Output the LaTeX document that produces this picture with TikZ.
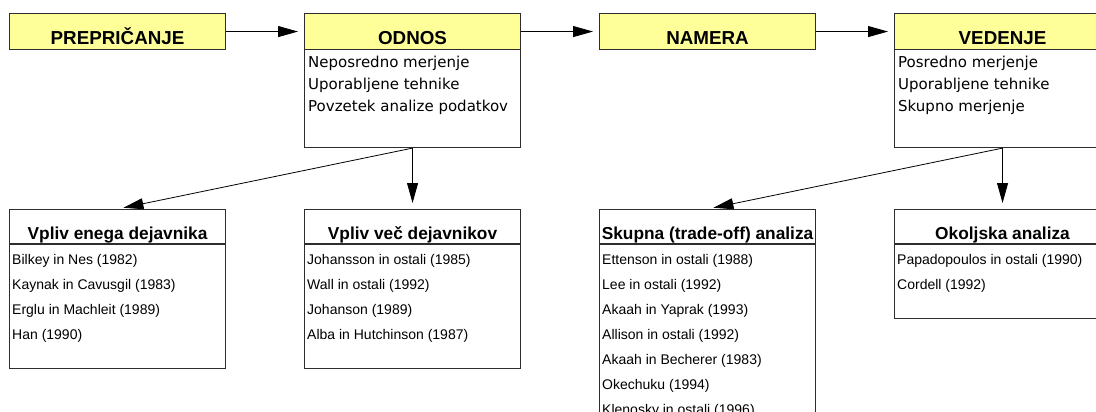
\documentclass[tikz,border=0pt]{standalone}
\usepackage{fontspec}
\setmainfont{Liberation Sans}
\newfontfamily\listfont{DejaVu Sans}
\usetikzlibrary{arrows.meta}
\definecolor{hdryellow}{RGB}{255,255,153}
\definecolor{boxline}{RGB}{45,45,45}

\begin{document}
\begin{tikzpicture}[x=1pt,y=-1pt,
  box/.style={draw=boxline, line width=1.1pt, anchor=north west, inner sep=0pt, minimum width=216pt},
  hdr/.style={box, fill=hdryellow, minimum height=36pt},
  sep/.style={draw=boxline, line width=1.1pt},
  toptitle/.style={font=\fontsize{18.8}{20}\selectfont\bfseries, anchor=base, inner sep=0pt},
  subtitle/.style={font=\fontsize{17.3}{19}\selectfont\bfseries, anchor=base, inner sep=0pt},
  topitem/.style={font=\listfont\fontsize{15}{18}\selectfont, anchor=base west, inner sep=0pt},
  item/.style={font=\fontsize{14}{16}\selectfont, anchor=base west, inner sep=0pt},
  link/.style={line width=0.8pt, -{Triangle[length=20pt,width=11pt]}, shorten >=6pt},
]
\path[use as bounding box] (0,0) rectangle (1096,412);
\clip (0,0) rectangle (1096,412);

% ---- top row ----
\node[hdr] (prep) at (9,13) {};
\node[toptitle] (prepT) at ([yshift=6pt]prep.south) {PREPRIČANJE};

\node[box, minimum height=134pt] (odnos) at (304,13) {};
\node[hdr] (odnosH) at (304,13) {};
\node[toptitle] (odnosT) at ([yshift=6pt]odnosH.south) {ODNOS};
\node[topitem] (odnos1) at ([xshift=4pt,yshift=-17pt]odnosH.south west) {Neposredno merjenje};
\node[topitem] (odnos2) at ([xshift=4pt,yshift=-39pt]odnosH.south west) {Uporabljene tehnike};
\node[topitem] (odnos3) at ([xshift=4pt,yshift=-61pt]odnosH.south west) {Povzetek analize podatkov};

\node[hdr] (namera) at (599,13) {};
\node[toptitle] (nameraT) at ([yshift=6pt]namera.south) {NAMERA};

\node[box, minimum height=134pt] (vedenje) at (894,13) {};
\node[hdr] (vedenjeH) at (894,13) {};
\node[toptitle] (vedenjeT) at ([yshift=6pt]vedenjeH.south) {VEDENJE};
\node[topitem] (vedenje1) at ([xshift=4pt,yshift=-17pt]vedenjeH.south west) {Posredno merjenje};
\node[topitem] (vedenje2) at ([xshift=4pt,yshift=-39pt]vedenjeH.south west) {Uporabljene tehnike};
\node[topitem] (vedenje3) at ([xshift=4pt,yshift=-61pt]vedenjeH.south west) {Skupno merjenje};

% ---- bottom row ----
\node[box, minimum height=159pt] (enega) at (9,209) {};
\draw[sep] ([yshift=-35pt]enega.north west) -- ([yshift=-35pt]enega.north east);
\node[subtitle] (enegaT) at ([yshift=-30pt]enega.north) {Vpliv enega dejavnika};
\node[item] (enega1) at ([xshift=3pt,yshift=-55pt]enega.north west) {Bilkey in Nes (1982)};
\node[item] (enega2) at ([xshift=3pt,yshift=-80pt]enega.north west) {Kaynak in Cavusgil (1983)};
\node[item] (enega3) at ([xshift=3pt,yshift=-105pt]enega.north west) {Erglu in Machleit (1989)};
\node[item] (enega4) at ([xshift=3pt,yshift=-130pt]enega.north west) {Han (1990)};

\node[box, minimum height=159pt] (vec) at (304,209) {};
\draw[sep] ([yshift=-35pt]vec.north west) -- ([yshift=-35pt]vec.north east);
\node[subtitle] (vecT) at ([yshift=-30pt]vec.north) {Vpliv več dejavnikov};
\node[item] (vec1) at ([xshift=3pt,yshift=-55pt]vec.north west) {Johansson in ostali (1985)};
\node[item] (vec2) at ([xshift=3pt,yshift=-80pt]vec.north west) {Wall in ostali (1992)};
\node[item] (vec3) at ([xshift=3pt,yshift=-105pt]vec.north west) {Johanson (1989)};
\node[item] (vec4) at ([xshift=3pt,yshift=-130pt]vec.north west) {Alba in Hutchinson (1987)};

\node[box, minimum height=215pt] (skupna) at (599,209) {};
\draw[sep] ([yshift=-35pt]skupna.north west) -- ([yshift=-35pt]skupna.north east);
\node[subtitle] (skupnaT) at ([yshift=-30pt]skupna.north) {Skupna (trade-off) analiza};
\node[item] (skupna1) at ([xshift=3pt,yshift=-55pt]skupna.north west) {Ettenson in ostali (1988)};
\node[item] (skupna2) at ([xshift=3pt,yshift=-80pt]skupna.north west) {Lee in ostali (1992)};
\node[item] (skupna3) at ([xshift=3pt,yshift=-105pt]skupna.north west) {Akaah in Yaprak (1993)};
\node[item] (skupna4) at ([xshift=3pt,yshift=-130pt]skupna.north west) {Allison in ostali (1992)};
\node[item] (skupna5) at ([xshift=3pt,yshift=-155pt]skupna.north west) {Akaah in Becherer (1983)};
\node[item] (skupna6) at ([xshift=3pt,yshift=-180pt]skupna.north west) {Okechuku (1994)};
\node[item] (skupna7) at ([xshift=3pt,yshift=-205pt]skupna.north west) {Klenosky in ostali (1996)};

\node[box, minimum height=109pt] (okolj) at (894,209) {};
\draw[sep] ([yshift=-35pt]okolj.north west) -- ([yshift=-35pt]okolj.north east);
\node[subtitle] (okoljT) at ([yshift=-30pt]okolj.north) {Okoljska analiza};
\node[item] (okolj1) at ([xshift=3pt,yshift=-55pt]okolj.north west) {Papadopoulos in ostali (1990)};
\node[item] (okolj2) at ([xshift=3pt,yshift=-80pt]okolj.north west) {Cordell (1992)};

% ---- connectors ----
\draw[link] (prep.east) -- (odnosH.west);
\draw[link] (odnosH.east) -- (namera.west);
\draw[link] (namera.east) -- (vedenjeH.west);
\draw[link] (odnos.south) -- (enega.north);
\draw[link] (odnos.south) -- (vec.north);
\draw[link] (vedenje.south) -- (skupna.north);
\draw[link] (vedenje.south) -- (okolj.north);
\end{tikzpicture}
\end{document}
